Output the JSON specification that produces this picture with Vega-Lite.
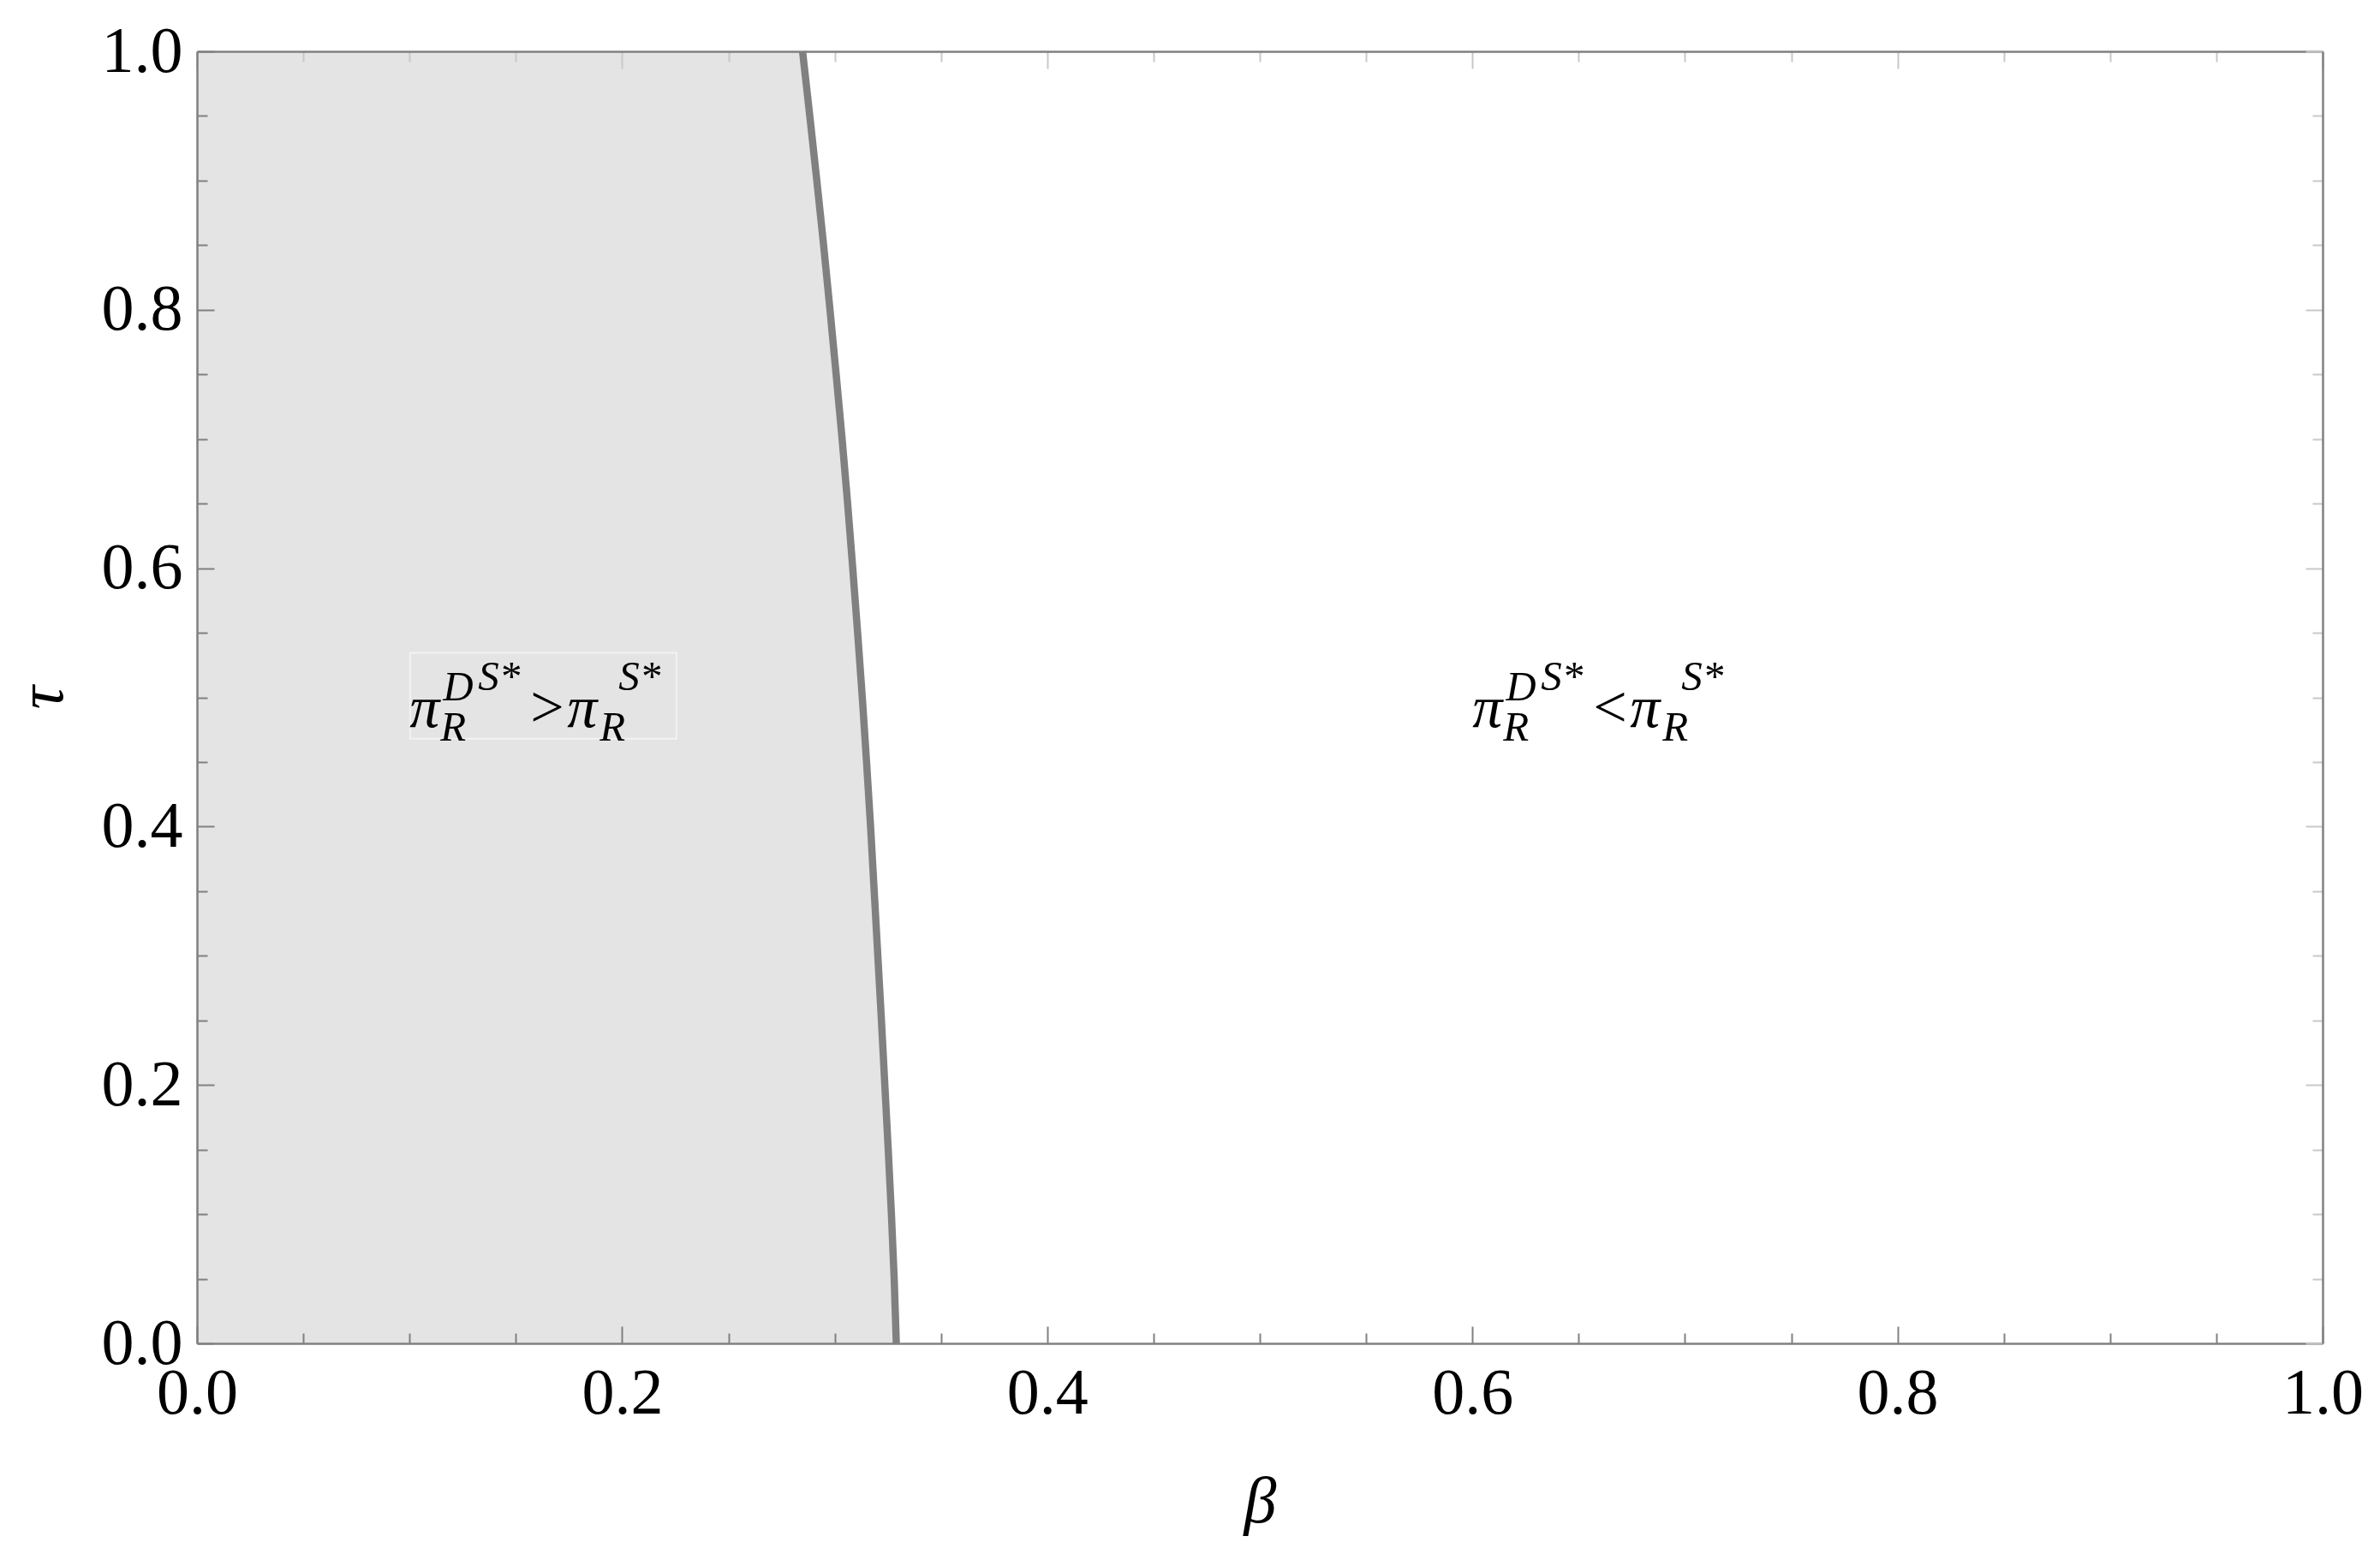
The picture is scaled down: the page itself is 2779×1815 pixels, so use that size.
{
  "$schema": "https://vega.github.io/schema/vega-lite/v6.json",
  "width": 2482,
  "height": 1509,
  "autosize": {"type": "none"},
  "padding": {"left": 230, "top": 60, "right": 67, "bottom": 246},
  "background": "white",
  "config": {
    "view": {"stroke": null},
    "font": "Liberation Serif",
    "axis": {"grid": false}
  },
  "datasets": {
    "boundary": [
      {"tau": 0.0, "beta": 0.3290},
      {"tau": 0.05, "beta": 0.3280},
      {"tau": 0.1, "beta": 0.3267},
      {"tau": 0.15, "beta": 0.3252},
      {"tau": 0.2, "beta": 0.3236},
      {"tau": 0.25, "beta": 0.3220},
      {"tau": 0.3, "beta": 0.3203},
      {"tau": 0.35, "beta": 0.3186},
      {"tau": 0.4, "beta": 0.3169},
      {"tau": 0.45, "beta": 0.3150},
      {"tau": 0.5, "beta": 0.3130},
      {"tau": 0.55, "beta": 0.3108},
      {"tau": 0.6, "beta": 0.3085},
      {"tau": 0.65, "beta": 0.3061},
      {"tau": 0.7, "beta": 0.3035},
      {"tau": 0.75, "beta": 0.3007},
      {"tau": 0.8, "beta": 0.2978},
      {"tau": 0.85, "beta": 0.2948},
      {"tau": 0.9, "beta": 0.2916},
      {"tau": 0.95, "beta": 0.2883},
      {"tau": 1.0, "beta": 0.2849}
    ],
    "labels": [
      {"beta": 0.1, "tau": 0.5, "sign": ">"},
      {"beta": 0.6, "tau": 0.5, "sign": "<"}
    ],
    "box": [
      {"b1": 0.1003, "b2": 0.2256, "t1": 0.468, "t2": 0.5345}
    ]
  },
  "layer": [
    {
      "data": {"name": "boundary"},
      "mark": {"type": "area", "orient": "horizontal", "color": "#e4e4e4"},
      "encoding": {
        "y": {
          "field": "tau", "type": "quantitative",
          "scale": {"domain": [0, 1], "nice": false, "zero": false},
          "axis": {
            "orient": "left",
            "values": [0, 0.05, 0.1, 0.15, 0.2, 0.25, 0.3, 0.35, 0.4, 0.45, 0.5, 0.55, 0.6, 0.65, 0.7, 0.75, 0.8, 0.85, 0.9, 0.95, 1.0],
            "format": ".1f",
            "labelExpr": "abs(datum.value*5 - round(datum.value*5)) < 0.001 ? datum.label : ''",
            "labelFont": "Liberation Serif",
            "labelFontSize": 76,
            "labelColor": "#000000",
            "labelPadding": 37,
            "labelFlush": false,
            "labelBound": false,
            "labelOverlap": false,
            "tickColor": "#808080",
            "tickWidth": 2,
            "tickSize": {"condition": {"test": "abs(datum.value*5 - round(datum.value*5)) < 0.001", "value": -20}, "value": -12},
            "domainColor": "#808080",
            "domainWidth": 2.5,
            "title": "τ",
            "titleFont": "Liberation Serif",
            "titleFontStyle": "italic",
            "titleFontWeight": "normal",
            "titleFontSize": 76,
            "titleColor": "#000000",
            "titlePadding": 30,
            "zindex": 1
          }
        },
        "x": {
          "field": "beta", "type": "quantitative",
          "scale": {"domain": [0, 1], "nice": false, "zero": true},
          "axis": {
            "orient": "bottom",
            "values": [0, 0.05, 0.1, 0.15, 0.2, 0.25, 0.3, 0.35, 0.4, 0.45, 0.5, 0.55, 0.6, 0.65, 0.7, 0.75, 0.8, 0.85, 0.9, 0.95, 1.0],
            "format": ".1f",
            "labelExpr": "abs(datum.value*5 - round(datum.value*5)) < 0.001 ? datum.label : ''",
            "labelFont": "Liberation Serif",
            "labelFontSize": 76,
            "labelColor": "#000000",
            "labelPadding": 41,
            "labelFlush": false,
            "labelBound": false,
            "labelOverlap": false,
            "tickColor": "#808080",
            "tickWidth": 2,
            "tickSize": {"condition": {"test": "abs(datum.value*5 - round(datum.value*5)) < 0.001", "value": -20}, "value": -12},
            "domainColor": "#808080",
            "domainWidth": 2.5,
            "title": "β",
            "titleFont": "Liberation Serif",
            "titleFontStyle": "italic",
            "titleFontWeight": "normal",
            "titleFontSize": 76,
            "titleColor": "#000000",
            "titlePadding": 44,
            "zindex": 1
          }
        }
      }
    },
    {
      "data": {"name": "boundary"},
      "mark": {"type": "line", "color": "#808080", "strokeWidth": 8.5},
      "encoding": {
        "y": {
          "field": "tau", "type": "quantitative",
          "scale": {"domain": [0, 1], "nice": false, "zero": false},
          "axis": {
            "orient": "right",
            "values": [0, 0.05, 0.1, 0.15, 0.2, 0.25, 0.3, 0.35, 0.4, 0.45, 0.5, 0.55, 0.6, 0.65, 0.7, 0.75, 0.8, 0.85, 0.9, 0.95, 1.0],
            "labels": false,
            "tickColor": "#c8c8c8",
            "tickWidth": 2,
            "tickSize": {"condition": {"test": "abs(datum.value*5 - round(datum.value*5)) < 0.001", "value": -20}, "value": -12},
            "domainColor": "#808080",
            "domainWidth": 2.5,
            "title": null,
            "zindex": 1
          }
        },
        "x": {
          "field": "beta", "type": "quantitative",
          "scale": {"domain": [0, 1], "nice": false, "zero": true},
          "axis": {
            "orient": "top",
            "values": [0, 0.05, 0.1, 0.15, 0.2, 0.25, 0.3, 0.35, 0.4, 0.45, 0.5, 0.55, 0.6, 0.65, 0.7, 0.75, 0.8, 0.85, 0.9, 0.95, 1.0],
            "labels": false,
            "tickColor": "#c8c8c8",
            "tickWidth": 2,
            "tickSize": {"condition": {"test": "abs(datum.value*5 - round(datum.value*5)) < 0.001", "value": -20}, "value": -12},
            "domainColor": "#808080",
            "domainWidth": 2.5,
            "title": null,
            "zindex": 1
          }
        }
      }
    },
    {
      "data": {"name": "box"},
      "mark": {"type": "rect", "filled": false, "stroke": "#f2f2f2", "strokeWidth": 2},
      "encoding": {
        "x": {"field": "b1", "type": "quantitative", "axis": null},
        "x2": {"field": "b2"},
        "y": {"field": "t1", "type": "quantitative", "axis": null},
        "y2": {"field": "t2"}
      }
    },
    {
      "data": {"name": "labels"},
      "mark": {"type": "text", "text": "π", "font": "Liberation Serif", "fontStyle": "italic", "fontSize": 70, "align": "left", "baseline": "alphabetic", "dx": 0, "dy": 34, "color": "#000000"},
      "encoding": {
        "x": {"field": "beta", "type": "quantitative", "axis": null},
        "y": {"field": "tau", "type": "quantitative", "axis": null}
      }
    },
    {
      "data": {"name": "labels"},
      "mark": {"type": "text", "text": "D", "font": "Liberation Serif", "fontStyle": "italic", "fontSize": 49, "align": "left", "baseline": "alphabetic", "dx": 39, "dy": 3, "color": "#000000"},
      "encoding": {
        "x": {"field": "beta", "type": "quantitative", "axis": null},
        "y": {"field": "tau", "type": "quantitative", "axis": null}
      }
    },
    {
      "data": {"name": "labels"},
      "mark": {"type": "text", "text": "R", "font": "Liberation Serif", "fontStyle": "italic", "fontSize": 49, "align": "left", "baseline": "alphabetic", "dx": 36, "dy": 50, "color": "#000000"},
      "encoding": {
        "x": {"field": "beta", "type": "quantitative", "axis": null},
        "y": {"field": "tau", "type": "quantitative", "axis": null}
      }
    },
    {
      "data": {"name": "labels"},
      "mark": {"type": "text", "text": "S*", "font": "Liberation Serif", "fontStyle": "italic", "fontSize": 49, "align": "left", "baseline": "alphabetic", "dx": 80, "dy": -9, "color": "#000000"},
      "encoding": {
        "x": {"field": "beta", "type": "quantitative", "axis": null},
        "y": {"field": "tau", "type": "quantitative", "axis": null}
      }
    },
    {
      "data": {"name": "labels"},
      "mark": {"type": "text", "font": "Liberation Serif", "fontSize": 70, "align": "left", "baseline": "alphabetic", "dx": 141, "dy": 34, "color": "#000000"},
      "encoding": {
        "x": {"field": "beta", "type": "quantitative", "axis": null},
        "y": {"field": "tau", "type": "quantitative", "axis": null},
        "text": {"field": "sign"}
      }
    },
    {
      "data": {"name": "labels"},
      "mark": {"type": "text", "text": "π", "font": "Liberation Serif", "fontStyle": "italic", "fontSize": 70, "align": "left", "baseline": "alphabetic", "dx": 184, "dy": 34, "color": "#000000"},
      "encoding": {
        "x": {"field": "beta", "type": "quantitative", "axis": null},
        "y": {"field": "tau", "type": "quantitative", "axis": null}
      }
    },
    {
      "data": {"name": "labels"},
      "mark": {"type": "text", "text": "R", "font": "Liberation Serif", "fontStyle": "italic", "fontSize": 49, "align": "left", "baseline": "alphabetic", "dx": 222, "dy": 50, "color": "#000000"},
      "encoding": {
        "x": {"field": "beta", "type": "quantitative", "axis": null},
        "y": {"field": "tau", "type": "quantitative", "axis": null}
      }
    },
    {
      "data": {"name": "labels"},
      "mark": {"type": "text", "text": "S*", "font": "Liberation Serif", "fontStyle": "italic", "fontSize": 49, "align": "left", "baseline": "alphabetic", "dx": 244, "dy": -9, "color": "#000000"},
      "encoding": {
        "x": {"field": "beta", "type": "quantitative", "axis": null},
        "y": {"field": "tau", "type": "quantitative", "axis": null}
      }
    }
  ],
  "resolve": {"axis": {"x": "independent", "y": "independent"}}
}
